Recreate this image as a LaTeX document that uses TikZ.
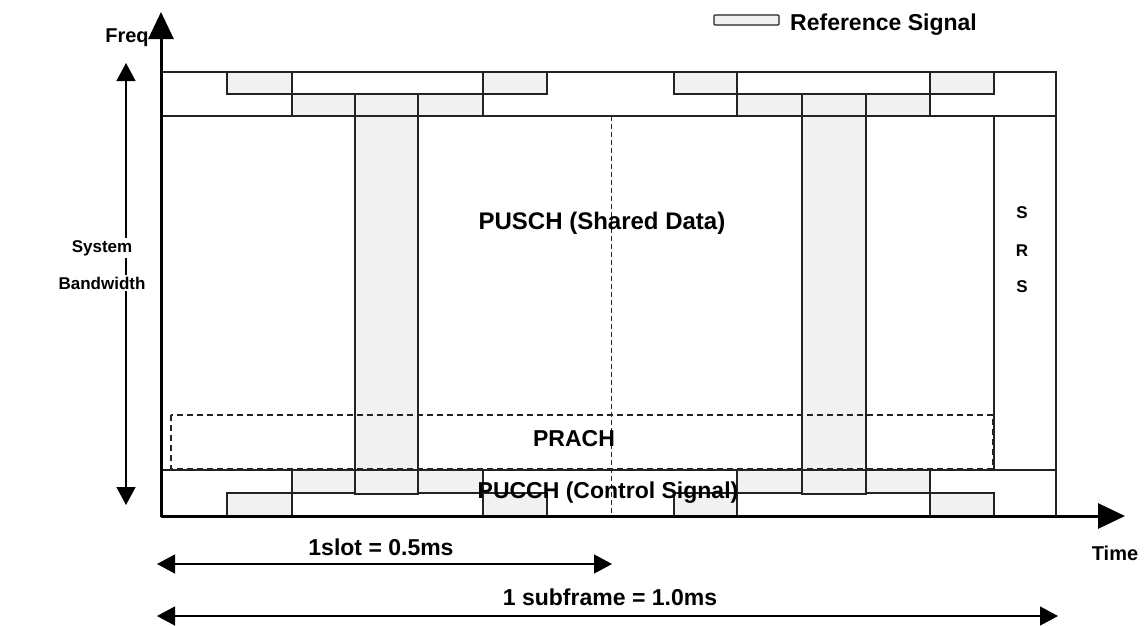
\documentclass[tikz,border=0pt]{standalone}
\usepackage{fontspec}
\setmainfont{Liberation Sans}
\usetikzlibrary{arrows.meta}
\definecolor{rsfill}{RGB}{241,241,241}
\definecolor{ln}{RGB}{35,35,35}
\begin{document}
\begin{tikzpicture}[x=1pt,y=-1pt,
  gridline/.style={draw=ln, line width=1.3pt},
  rsblock/.style={gridline, fill=rsfill},
  dashline/.style={draw=ln, line width=1.3pt, dash pattern=on 6pt off 4pt},
  lbl/.style={font=\fontsize{23}{25}\selectfont\bfseries, inner sep=0pt, anchor=base},
  biglbl/.style={font=\fontsize{24}{26}\selectfont\bfseries, inner sep=0pt, anchor=base},
  axlbl/.style={font=\fontsize{20}{22}\selectfont\bfseries, inner sep=0pt, anchor=base},
  smalllbl/.style={font=\fontsize{17}{19}\selectfont\bfseries, inner sep=0pt, anchor=base},
  axisarrow/.style={draw=black, line width=3pt, line join=round, {Triangle[length=27pt,width=25pt]}-{Triangle[length=27pt,width=25pt]}},
  dimarrow/.style={draw=black, line width=1.3pt, {Triangle[length=18pt,width=19pt]}-{Triangle[length=18pt,width=19pt]}}
]
\useasboundingbox (0,0) rectangle (1145,625);

% shaded reference signal blocks (top band)
\foreach \xa/\xb in {227/292,483/547,674/737,930/994}
  \path[rsblock] (\xa,72) rectangle (\xb,94);
\foreach \xa/\xb in {292/355,418/483,737/802,866/930}
  \path[rsblock] (\xa,94) rectangle (\xb,116);
% strips
\path[rsblock] (355,94) rectangle (418,494);
\path[rsblock] (802,94) rectangle (866,494);
% bottom band blocks
\foreach \xa/\xb in {292/355,418/483,737/802,866/930}
  \path[rsblock] (\xa,470) rectangle (\xb,493);
\foreach \xa/\xb in {227/292,483/547,674/737,930/994}
  \path[rsblock] (\xa,493) rectangle (\xb,516);

% band outlines
\path[gridline] (161,72) rectangle (1056,116);
\path[gridline] (161,470) -- (1056,470);
\path[gridline] (1056,116) -- (1056,516);
\path[gridline] (994,116) -- (994,470);

% slot boundary
\path[draw=ln, line width=1pt, dash pattern=on 5pt off 3pt] (611,116) -- (611,516);

% PRACH region
\path[dashline] (171,415) rectangle (993,469);

% axes
\coordinate (ytip) at (161,12);
\coordinate (origin) at (161,516);
\coordinate (xtip) at (1125,516);
\draw[axisarrow] (ytip) -- (origin) -- (xtip);

% system bandwidth arrow
\coordinate (bwtop) at (126,63);
\coordinate (bwbot) at (126,505);
\draw[dimarrow] (bwtop) -- (bwbot);

% time arrows
\coordinate (slA) at (157,564);
\coordinate (slB) at (612,564);
\draw[dimarrow] (slA) -- (slB);
\coordinate (sfA) at (157,616);
\coordinate (sfB) at (1058,616);
\draw[dimarrow] (sfA) -- (sfB);

% legend
\path[draw=ln, line width=1.2pt, fill=rsfill, rounded corners=1pt] (714,15) rectangle (779,25);
\node[lbl, anchor=base west] (legend) at (790,30) {Reference Signal};

% labels
\node[axlbl] (freq) at (127,42) {Freq};
\node[axlbl] (timelbl) at (1115,560) {Time};
\node[smalllbl, fill=white, inner sep=2pt] (sys) at (102,252) {System};
\node[smalllbl, fill=white, inner sep=2pt] (bw) at (102,289) {Bandwidth};
\node[biglbl] (pusch) at (602,229) {PUSCH (Shared Data)};
\node[lbl] (prach) at (574,446) {PRACH};
\node[lbl] (pucch) at (608,498) {PUCCH (Control Signal)};
\node[smalllbl] (s1) at (1022,218) {S};
\node[smalllbl] (r1) at (1022,256) {R};
\node[smalllbl] (s2) at (1022,292) {S};
\node[lbl] (slot) at (381,555) {1slot = 0.5ms};
\node[lbl] (subf) at (610,605) {1 subframe = 1.0ms};
\end{tikzpicture}
\end{document}
